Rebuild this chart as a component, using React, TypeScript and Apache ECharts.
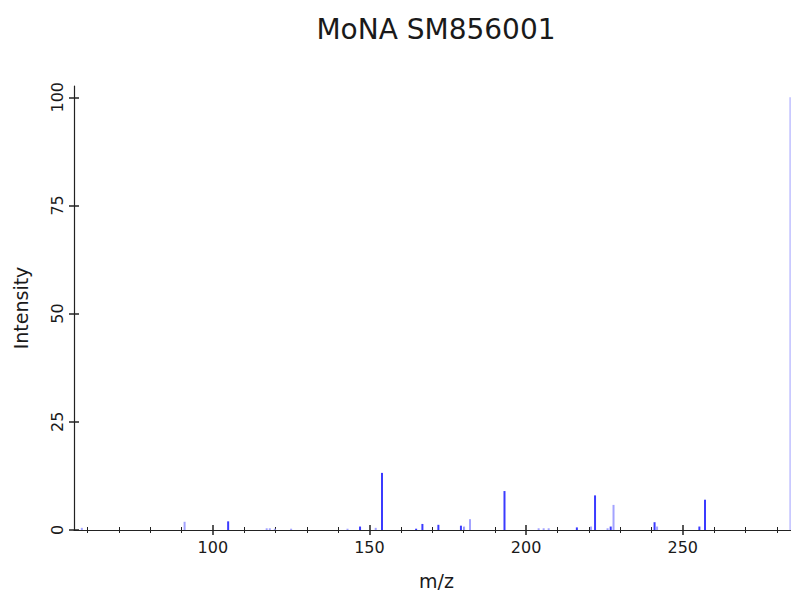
import React, { useEffect, useRef } from "react";
import * as echarts from "echarts";

const TITLE = "MoNA SM856001";
const X_NAME = "m/z";
const Y_NAME = "Intensity";

const X_MIN = 55.7;
const X_MAX = 287.1;
const Y_MIN = 0;
const Y_MAX = 102.6;

const X_MAJOR_TICKS = [100, 150, 200, 250];
const X_MINOR_TICKS = [60, 70, 80, 90, 110, 120, 130, 140, 160, 170, 180, 190, 210, 220, 230, 240, 260, 270, 280];
const Y_TICKS = [0, 25, 50, 75, 100];

// strong (dark blue) peaks
const strongMz = [104.9, 147.0, 154.0, 164.9, 166.9, 172.0, 179.2, 193.1, 216.2, 222.0, 227.0, 241.0, 255.3, 257.1];
const strongInt = [2.0, 0.8, 13.2, 0.3, 1.4, 1.2, 1.0, 9.0, 0.6, 8.0, 0.8, 1.8, 0.8, 7.0];

// faint (light blue) peaks
const faintMz = [58.2, 91.0, 117.2, 118.2, 119.8, 125.0, 143.0, 152.0, 180.2, 182.1, 204.0, 205.6, 207.2, 220.7, 226.0, 227.9, 241.8];
const faintInt = [0.5, 1.9, 0.4, 0.4, 0.3, 0.3, 0.3, 0.5, 0.8, 2.5, 0.4, 0.4, 0.4, 0.8, 0.4, 5.8, 0.8];

// base peak (very light)
const baseMz = [284.3];
const baseInt = [100];

const STRONG_COLOR = "#3b3bff";
const FAINT_COLOR = "#a3a3ff";
const BASE_COLOR = "#c9c9ff";
const AXIS_COLOR = "#222222";
const FONT = "DejaVu Sans";

export default function App() {
  const ref = useRef<HTMLDivElement>(null);

  useEffect(() => {
    if (!ref.current) return;
    const chart = echarts.init(ref.current, undefined, { renderer: "svg" });

    const toData = (mz: number[], ints: number[], color: string) =>
      mz.map((m, i) => ({ value: [m, ints[i]], itemStyle: { color } }));

    const data = [
      ...toData(faintMz, faintInt, FAINT_COLOR),
      ...toData(strongMz, strongInt, STRONG_COLOR),
      ...toData(baseMz, baseInt, BASE_COLOR),
    ];

    const xBase = {
      type: "value",
      min: X_MIN,
      max: X_MAX,
      position: "bottom",
      splitLine: { show: false },
      axisLine: { show: false },
      axisLabel: { show: false },
    };
    const yBase = {
      type: "value",
      min: Y_MIN,
      max: Y_MAX,
      position: "left",
      splitLine: { show: false },
      axisLine: { show: false },
      axisLabel: { show: false },
    };

    chart.setOption({
      animation: false,
      backgroundColor: "#ffffff",
      textStyle: { fontFamily: FONT },
      grid: { left: 74, top: 86, width: 725, bottom: 60, containLabel: false, outerBoundsMode: "none" },
      graphic: [
        {
          type: "text",
          x: 436,
          y: 29,
          style: {
            text: TITLE,
            fontFamily: FONT,
            fontSize: 28,
            fill: "#1a1a1a",
            textAlign: "center",
            textVerticalAlign: "middle",
          },
        },
      ],
      xAxis: [
        {
          ...xBase,
          axisLine: { show: true, lineStyle: { color: AXIS_COLOR, width: 1.2 } },
          axisTick: {
            show: true,
            inside: false,
            length: 5,
            lineStyle: { color: AXIS_COLOR, width: 1.5 },
            customValues: X_MAJOR_TICKS,
          },
          axisLabel: {
            show: true,
            customValues: X_MAJOR_TICKS,
            margin: 9,
            fontSize: 16,
            color: "#1a1a1a",
            fontFamily: FONT,
          },
          name: X_NAME,
          nameLocation: "middle",
          nameGap: 41,
          nameTextStyle: { fontSize: 19, color: "#1a1a1a", fontFamily: FONT },
        },
        {
          ...xBase,
          axisTick: {
            show: true,
            inside: true,
            length: 5,
            lineStyle: { color: AXIS_COLOR, width: 1.5 },
            customValues: X_MAJOR_TICKS,
          },
        },
        {
          ...xBase,
          axisTick: {
            show: true,
            inside: false,
            length: 3,
            lineStyle: { color: AXIS_COLOR, width: 1 },
            customValues: X_MINOR_TICKS,
          },
        },
        {
          ...xBase,
          axisTick: {
            show: true,
            inside: true,
            length: 3,
            lineStyle: { color: AXIS_COLOR, width: 1 },
            customValues: X_MINOR_TICKS,
          },
        },
      ],
      yAxis: [
        {
          ...yBase,
          axisLine: { show: true, lineStyle: { color: AXIS_COLOR, width: 1.2 } },
          axisTick: {
            show: true,
            inside: false,
            length: 5,
            lineStyle: { color: AXIS_COLOR, width: 1.5 },
            customValues: Y_TICKS,
          },
          axisLabel: {
            show: true,
            customValues: Y_TICKS,
            rotate: 90,
            margin: 9,
            fontSize: 16,
            color: "#1a1a1a",
            fontFamily: FONT,
          },
          name: Y_NAME,
          nameLocation: "middle",
          nameGap: 44,
          nameTextStyle: { fontSize: 19, color: "#1a1a1a", fontFamily: FONT },
        },
        {
          ...yBase,
          axisTick: {
            show: true,
            inside: true,
            length: 5,
            lineStyle: { color: AXIS_COLOR, width: 1.5 },
            customValues: Y_TICKS,
          },
        },
      ],
      series: [
        {
          type: "bar",
          xAxisIndex: 0,
          yAxisIndex: 0,
          barWidth: 2,
          data,
        },
      ],
    });

    return () => chart.dispose();
  }, []);

  return (
    <div
      ref={ref}
      style={{ position: "fixed", left: 0, top: 0, width: 791, height: 590 }}
    />
  );
}
